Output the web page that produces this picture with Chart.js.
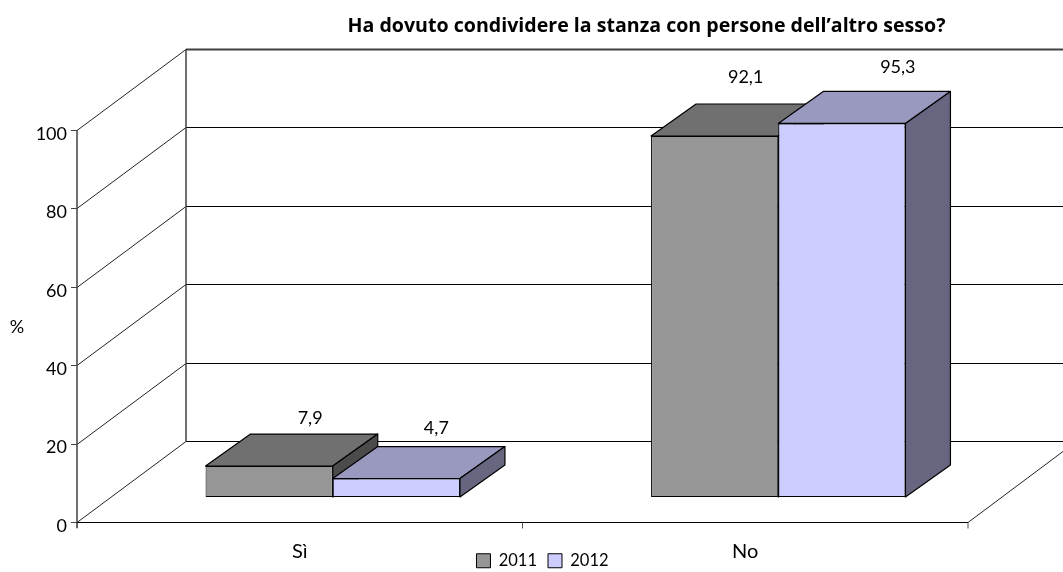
<!DOCTYPE html>
<html><head><meta charset="utf-8">
<style>html,body{margin:0;padding:0;background:#fff}canvas{display:block}</style>
<script src="https://cdn.jsdelivr.net/npm/chart.js@4"></script>
</head><body><canvas id="c" width="1063" height="572"></canvas>
<script>
const categories = ['Sì', 'No'];
const values2011 = [7.9, 92.1];
const values2012 = [4.7, 95.3];
const seriesNames = ['2011', '2012'];
const titleText = 'Ha dovuto condividere la stanza con persone dell’altro sesso?';
const axisUnit = '%';

const frontFill = ['#969696', '#CCCCFF'];
const topFill = ['#707070', '#9999BF'];
const sideFill = ['#4B4B4B', '#666680'];
const FRONT = {dx: -33, dy: 25}, BACK = {dx: 76, dy: -56}, BAR = {dx: 45, dy: -32};
const labelOffsets = [[[41, -48], [31, -59]], [[40, -50], [56, -56]]];
const FONT = 'Lato';

function line(ctx, x1, y1, x2, y2, w, col) {
  ctx.beginPath(); ctx.lineWidth = w; ctx.strokeStyle = col;
  ctx.moveTo(x1, y1); ctx.lineTo(x2, y2); ctx.stroke();
}
function poly(ctx, pts, fill) {
  ctx.beginPath(); pts.forEach((p, i) => i ? ctx.lineTo(p[0], p[1]) : ctx.moveTo(p[0], p[1]));
  ctx.closePath(); ctx.fillStyle = fill; ctx.fill();
  ctx.lineWidth = 1.2; ctx.strokeStyle = '#000'; ctx.lineJoin = 'round'; ctx.stroke();
}
const scene = {
  id: 'scene',
  afterLayout(chart) {
    chart.titleBlock.left += 146; chart.titleBlock.right += 146;
    chart.legend.left += 42; chart.legend.right += 42;
    chart.legend.top += 7; chart.legend.bottom += 7;
    chart.scales.x.bottom = chart.height;
  },
  beforeDatasetsDraw(chart) {
    const {ctx, scales: {x, y}} = chart;
    const L = chart.chartArea.left, R = chart.chartArea.right;
    ctx.save();
    const fx = L + FRONT.dx, bx = L + BACK.dx, frx = R + FRONT.dx, brx = R + BACK.dx;
    y.ticks.forEach(t => {
      const p = y.getPixelForValue(t.value);
      const fy = Math.round(p + FRONT.dy) + .5, by = Math.round(p + BACK.dy) + .5;
      const edge = t.value === 100;
      line(ctx, fx, fy, bx, by, 1, '#222');
      line(ctx, bx, by, brx, by, edge ? 2 : 1, edge ? '#404040' : '#000');
      line(ctx, fx - 6, fy, fx, fy, 1, '#444');
    });
    const y0 = y.getPixelForValue(0), y1 = y.getPixelForValue(100);
    line(ctx, fx, y1 + FRONT.dy, fx, y0 + FRONT.dy + 6, 1.5, '#404040');
    line(ctx, bx, y1 + BACK.dy, bx, y0 + BACK.dy, 1.5, '#404040');
    const fy0 = Math.round(y0 + FRONT.dy) + .5;
    line(ctx, fx, fy0, frx, fy0, 1.2, '#000');
    line(ctx, frx, fy0, brx, y0 + BACK.dy, 1, '#222');
    [fx, (fx + frx) / 2, frx].forEach(px => line(ctx, px, fy0, px, fy0 + 6, 1, '#555'));
    categories.forEach((_, i) => {
      chart.data.datasets.forEach((ds, d) => {
        const b = chart.getDatasetMeta(d).data[i];
        const l = b.x - b.width / 2, r = b.x + b.width / 2, t = b.y, bo = b.base;
        poly(ctx, [[l, t], [l + BAR.dx, t + BAR.dy], [r + BAR.dx, t + BAR.dy], [r, t]], topFill[d]);
        poly(ctx, [[r, t], [r + BAR.dx, t + BAR.dy], [r + BAR.dx, bo + BAR.dy], [r, bo]], sideFill[d]);
      });
    });
    ctx.restore();
  },
  afterDatasetsDraw(chart) {
    const {ctx} = chart;
    ctx.save();
    ctx.font = '18px ' + FONT; ctx.fillStyle = '#000';
    ctx.textAlign = 'center'; ctx.textBaseline = 'middle';
    chart.data.datasets.forEach((ds, d) => {
      chart.getDatasetMeta(d).data.forEach((b, i) => {
        const o = labelOffsets[d][i];
        ctx.fillText(String(ds.data[i]).replace('.', ','), b.x + o[0], b.y + o[1]);
      });
    });
    ctx.fillText(axisUnit, 17, 327);
    ctx.restore();
  }
};
new Chart(document.getElementById('c'), {
  type: 'bar',
  plugins: [scene],
  data: {
    labels: categories,
    datasets: [
      {label: seriesNames[0], data: values2011, backgroundColor: frontFill[0], borderColor: '#000', borderWidth: 1, borderSkipped: false},
      {label: seriesNames[1], data: values2012, backgroundColor: frontFill[1], borderColor: '#000', borderWidth: 1, borderSkipped: false}
    ]
  },
  options: {
    responsive: false, animation: false,
    layout: {autoPadding: false, padding: {left: 0, right: 62, top: 0, bottom: 0}},
    categoryPercentage: 0.571, barPercentage: 1,
    plugins: {
      tooltip: {enabled: false},
      title: {display: true, text: titleText, color: '#000',
        font: {family: 'Open Sans', size: 19.6, weight: 'bold'},
        padding: {top: 15, bottom: 66.5}},
      legend: {position: 'bottom', onClick: null,
        labels: {boxWidth: 14, boxHeight: 14, padding: 11, color: '#000', font: {family: FONT, size: 16.5}}}
    },
    scales: {
      x: {
        grid: {display: false}, border: {display: false},
        ticks: {color: '#000', font: {family: FONT, size: 20}, padding: 35, labelOffset: -33, maxRotation: 0, autoSkip: false},
        afterFit(s) { s.height = 75 - s.chart.legend.height; }
      },
      y: {
        min: 0, max: 100,
        grid: {display: false, drawTicks: false}, border: {display: false},
        ticks: {stepSize: 20, color: '#000', font: {family: FONT, size: 18}, padding: 43, labelOffset: 29},
        afterFit(s) { s.width = 110; }
      }
    }
  }
});
</script></body></html>
